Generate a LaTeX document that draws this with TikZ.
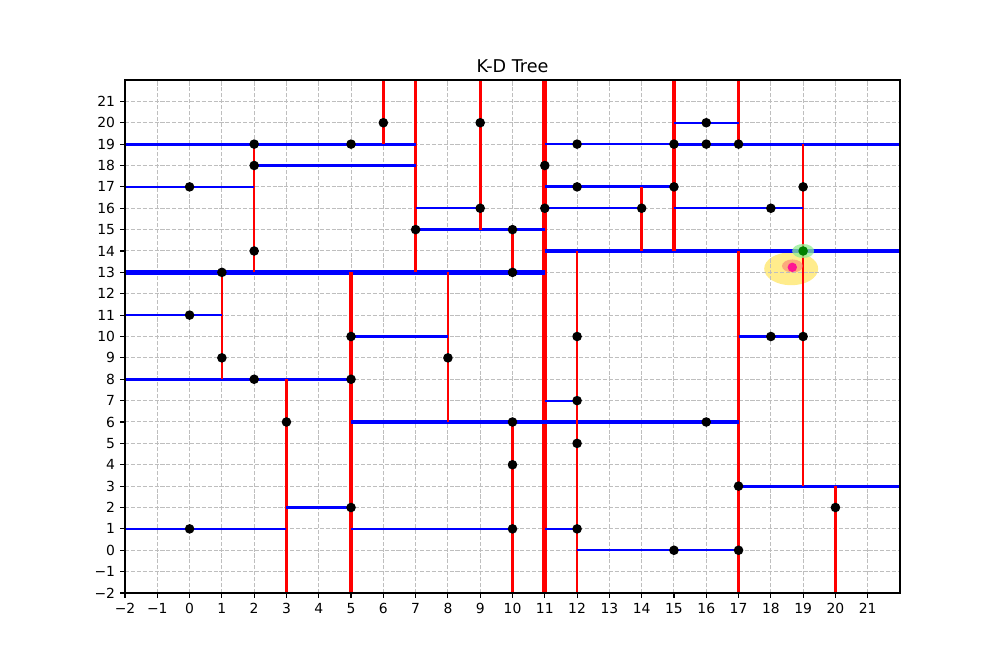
\documentclass[tikz,border=0pt]{standalone}
\usepackage{fontspec}
\setmainfont{DejaVu Sans}
\definecolor{gridgray}{RGB}{190,190,190}
\definecolor{goldc}{RGB}{255,215,0}
\definecolor{lgreen}{RGB}{144,238,144}
\definecolor{dgreen}{RGB}{0,128,0}
\definecolor{salmonc}{RGB}{250,128,114}
\definecolor{dpink}{RGB}{255,20,147}
\begin{document}
\begin{tikzpicture}[x=1pt,y=1pt,
  gridl/.style={draw=gridgray,line width=1pt,dash pattern=on 4.1pt off 1.8pt},
  spine/.style={draw=black,line width=1.1pt},
  tickm/.style={draw=black,line width=1.1pt},
  ticklab/.style={font=\fontsize{13.9}{16}\selectfont,inner sep=0pt},
  lvA/.style={draw=red,line width=5pt},
  lvB/.style={draw=blue,line width=4.3pt},
  lvC/.style={draw=red,line width=3.6pt},
  lvD/.style={draw=blue,line width=3.1pt},
  lvE/.style={draw=red,line width=2.6pt},
  lvF/.style={draw=blue,line width=2.1pt},
  kpt/.style={circle,fill=black,inner sep=0pt,minimum size=9.6pt},
]
\useasboundingbox (0,0) rectangle (1000,666);
\fill[white] (0,0) rectangle (1000,666);
\node[font=\fontsize{17.6}{21}\selectfont,anchor=base,inner sep=0pt] (title) at (512.5,593.5) {K-D Tree};
\begin{scope}[x=32.2917pt,y=21.375pt,shift={(189.583pt,115.75pt)}]
  % query highlight (below grid)
  \fill[goldc,opacity=0.45] (18.63,13.17) ellipse [x radius=27pt,y radius=16.5pt];
  % grid
  \foreach \i in {-2,...,21} {
    \draw[gridl] (\i,-2) -- (\i,22);
    \draw[gridl] (-2,\i) -- (22,\i);
  }
  \begin{scope}
  \clip (-2,-2) rectangle (22,22);
  % level 0
  \draw[lvA] (11,-2) -- (11,22);
  % level 1
  \draw[lvB] (-2,13) -- (11,13);
  \draw[lvB] (11,14) -- (22,14);
  % level 2
  \draw[lvC] (7,13) -- (7,22);
  \draw[lvC] (5,-2) -- (5,13);
  \draw[lvC] (15,14) -- (15,22);
  \draw[lvC] (17,-2) -- (17,14);
  % level 3
  \draw[lvD] (-2,19) -- (7,19);
  \draw[lvD] (7,15) -- (11,15);
  \draw[lvD] (-2,8) -- (5,8);
  \draw[lvD] (5,6) -- (11,6);
  \draw[lvD] (11,17) -- (15,17);
  \draw[lvD] (15,19) -- (22,19);
  \draw[lvD] (11,6) -- (17,6);
  \draw[lvD] (17,3) -- (22,3);
  % level 4
  \draw[lvE] (6,19) -- (6,22);
  \draw[lvE] (2,13) -- (2,19);
  \draw[lvE] (9,15) -- (9,22);
  \draw[lvE] (10,13) -- (10,15);
  \draw[lvE] (1,8) -- (1,13);
  \draw[lvE] (3,-2) -- (3,8);
  \draw[lvE] (8,6) -- (8,13);
  \draw[lvE] (10,-2) -- (10,6);
  \draw[lvE] (14,14) -- (14,17);
  \draw[lvE] (17,19) -- (17,22);
  \draw[lvE] (19,14) -- (19,19);
  \draw[lvE] (12,6) -- (12,14);
  \draw[lvE] (12,-2) -- (12,6);
  \draw[lvE] (19,3) -- (19,14);
  \draw[lvE] (20,-2) -- (20,3);
  % level 5
  \draw[lvF] (-2,17) -- (2,17);
  \draw[lvF] (2,18) -- (7,18);
  \draw[lvF] (7,16) -- (9,16);
  \draw[lvF] (-2,11) -- (1,11);
  \draw[lvF] (-2,1) -- (3,1);
  \draw[lvF] (3,2) -- (5,2);
  \draw[lvF] (5,10) -- (8,10);
  \draw[lvF] (5,1) -- (10,1);
  \draw[lvF] (11,19) -- (15,19);
  \draw[lvF] (11,16) -- (14,16);
  \draw[lvF] (15,20) -- (17,20);
  \draw[lvF] (15,16) -- (19,16);
  \draw[lvF] (11,7) -- (12,7);
  \draw[lvF] (11,1) -- (12,1);
  \draw[lvF] (12,0) -- (17,0);
  \draw[lvF] (17,10) -- (19,10);
  \end{scope}
  % points
  \foreach \px/\py [count=\k] in {0/1,0/11,0/17,1/9,1/13,2/8,2/14,2/18,2/19,3/6,5/2,5/8,5/10,5/19,6/20,7/15,8/9,9/16,9/20,10/1,10/4,10/6,10/13,10/15,11/16,11/18,12/1,12/5,12/7,12/10,12/17,12/19,14/16,15/0,15/17,15/19,16/6,16/19,16/20,17/0,17/3,17/19,18/10,18/16,19/10,19/17,20/2}
    \node[kpt] (p\k) at (\px,\py) {};
  % nearest neighbour and query point
  \fill[lgreen,opacity=0.75] (19,14) ellipse [x radius=11pt,y radius=7pt];
  \node[circle,fill=dgreen,inner sep=0pt,minimum size=9.6pt] (nn) at (19,14) {};
  \fill[salmonc,opacity=0.6] (18.67,13.3) ellipse [x radius=10.5pt,y radius=6.5pt];
  \node[circle,fill=dpink,inner sep=0pt,minimum size=9.4pt] (q) at (18.665,13.237) {};
  % ticks and labels
  \foreach \i in {-2,...,21} {
    \draw[tickm] (\i,-2) -- ++(0,-4.9pt);
    \draw[tickm] (-2,\i) -- ++(-4.9pt,0);
    \node[ticklab,anchor=north] (xl\i) at ([yshift=-9.8pt]\i,-2) {\ifnum\i<0 −\number\numexpr-\i\relax\else\i\fi};
    \node[ticklab,anchor=east] (yl\i) at ([xshift=-9.8pt]-2,\i) {\ifnum\i<0 −\number\numexpr-\i\relax\else\i\fi};
  }
  % spines
  \draw[spine] (-2,-2) rectangle (22,22);
\end{scope}
\end{tikzpicture}
\end{document}
